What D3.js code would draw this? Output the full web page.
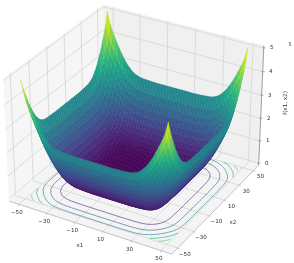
<!DOCTYPE html>
<html><head><meta charset="utf-8">
<script src="https://cdn.jsdelivr.net/npm/d3@7"></script>
<style>html,body{margin:0;padding:0;background:#fff}svg{display:block;filter:blur(.4px)}text{font-family:"DejaVu Sans",sans-serif;fill:#333}</style>
</head><body><svg id="c" width="294" height="263"></svg>
<script>
const x1Grid=[-50,-48,-46,-44,-42,-40,-38,-36,-34,-32,-30,-28,-26,-24,-22,-20,-18,-16,-14,-12,-10,-8,-6,-4,-2,0,2,4,6,8,10,12,14,16,18,20,22,24,26,28,30,32,34,36,38,40,42,44,46,48,50];
const x2Grid=x1Grid.slice();
const x1Profile=[2.55,2.05,1.72,1.45,1.18,.93,.72,.53,.38,.25,.16,.1,.06,.04,.03,.02,.01,.01,0,0,0,0,0,0,0,0,0,0,0,0,0,0,0,.01,.01,.02,.03,.04,.06,.1,.16,.25,.38,.53,.72,.93,1.18,1.45,1.72,2.05,2.55];
const x2Profile=[2.4,2.0,1.7,1.43,1.16,.92,.71,.52,.37,.24,.15,.09,.05,.03,.02,.02,.01,.01,0,0,0,0,0,0,0,0,0,0,0,0,0,0,0,.01,.01,.02,.03,.04,.06,.1,.16,.25,.38,.53,.72,.93,1.18,1.45,1.72,2.05,2.55];
const x1Ticks=[-50,-30,-10,10,30,50];
const x2Ticks=[-50,-30,-10,10,30,50];
const zTicks=[0,1,2,3,4,5];
const contourLevels=[.75,1.5,2.25,3,3.75,4.5];

const svg=d3.select("#c");
const L=57.3, zLo=-.104, zHi=5.104;
const sx=d3.scaleLinear([-L,L],[-.5714,.5714]);
const sy=d3.scaleLinear([-L,L],[-.5714,.5714]);
const sz=d3.scaleLinear([zLo,zHi],[-.4286,.4286]);
const px=d3.scaleLinear([0,1],[136,136+163.3]);
const py=d3.scaleLinear([0,1],[123.5,123.5-163.6]);
const rad=Math.PI/180, el=30*rad, az=-60*rad;
const e=[Math.cos(el)*Math.cos(az),Math.cos(el)*Math.sin(az),Math.sin(el)];
const r=[-Math.sin(az),Math.cos(az),0];
const u=[e[1]*r[2]-e[2]*r[1],e[2]*r[0]-e[0]*r[2],e[0]*r[1]-e[1]*r[0]];
const dot=(a,b)=>a[0]*b[0]+a[1]*b[1]+a[2]*b[2];
function project(x,y,z){
  const p=[sx(x),sy(y),sz(z)], d=dot(e,p), f=10/(10-d);
  return [px(dot(r,p)*f),py(dot(u,p)*f),d];
}
const line=d3.line();
const pathOf=(pts,close)=>line(pts.map(p=>[p[0],p[1]]))+(close?"Z":"");

// panes
const P=(x,y,z)=>project(x,y,z);
const panes=[
 {c:[[-L,-L,zLo],[-L,L,zLo],[-L,L,zHi],[-L,-L,zHi]],f:"#f6f6f6"},
 {c:[[-L,L,zLo],[L,L,zLo],[L,L,zHi],[-L,L,zHi]],f:"#f0f0f0"},
 {c:[[-L,-L,zLo],[L,-L,zLo],[L,L,zLo],[-L,L,zLo]],f:"#f4f4f4"}];
svg.append("g").selectAll("path").data(panes).join("path")
  .attr("d",d=>pathOf(d.c.map(c=>P(...c)),true)).attr("fill",d=>d.f);

// grid lines
const grid=[];
x1Ticks.forEach(t=>{grid.push([[t,-L,zLo],[t,L,zLo],[t,L,zHi]]);});
x2Ticks.forEach(t=>{grid.push([[L,t,zLo],[-L,t,zLo],[-L,t,zHi]]);});
zTicks.forEach(t=>{grid.push([[-L,-L,t],[-L,L,t],[L,L,t]]);});
svg.append("g").selectAll("path").data(grid).join("path")
  .attr("d",d=>pathOf(d.map(c=>P(...c)))).attr("fill","none").attr("stroke","#d4d4d4").attr("stroke-width",.8);

// axis lines
const axes=[[[-L,-L,zLo],[L,-L,zLo]],[[L,-L,zLo],[L,L,zLo]],[[L,L,zLo],[L,L,zHi]]];
svg.append("g").selectAll("path").data(axes).join("path")
  .attr("d",d=>pathOf(d.map(c=>P(...c)))).attr("fill","none")
  .attr("stroke",(d,i)=>i==2?"#888":"#b4b4b4").attr("stroke-width",.8);

// contours on the floor
const zGrid=[];
x2Grid.forEach((_,j)=>x1Grid.forEach((_,i)=>zGrid.push(x1Profile[i]+x2Profile[j])));
const n=x1Grid.length,m=x2Grid.length;
const gx=d3.scaleLinear([.5,n-.5],[x1Grid[0],x1Grid[n-1]]);
const gy=d3.scaleLinear([.5,m-.5],[x2Grid[0],x2Grid[m-1]]);
const color=v=>d3.interpolateViridis(v/5);
const cs=d3.contours().size([n,m]).thresholds(contourLevels)(zGrid);
const cg=svg.append("g").attr("fill","none");
cs.forEach(c=>{
  c.coordinates.forEach(poly=>poly.forEach(ring=>{
    let run=[];
    const flush=()=>{if(run.length>1)cg.append("path").attr("d",pathOf(run.map(q=>P(gx(q[0]),gy(q[1]),zLo))))
      .attr("stroke",color(c.value)).attr("stroke-width",.9).attr("stroke-opacity",.7);run=[];};
    ring.forEach(q=>{
      const inside=q[0]>.6&&q[0]<n-.6&&q[1]>.6&&q[1]<m-.6;
      if(inside)run.push(q);else flush();
    });
    flush();
  }));
});

// surface facets, far to near
const facets=[];
for(let j=0;j<m-1;j++)for(let i=0;i<n-1;i++){
  const corners=[[i,j],[i+1,j],[i+1,j+1],[i,j+1]].map(([a,b])=>P(x1Grid[a],x2Grid[b],x1Profile[a]+x2Profile[b]));
  const v=d3.mean([[i,j],[i+1,j],[i+1,j+1],[i,j+1]],([a,b])=>x1Profile[a]+x2Profile[b]);
  facets.push({corners,v,depth:d3.mean(corners,c=>c[2])});
}
facets.sort((a,b)=>a.depth-b.depth);
svg.append("g").selectAll("path").data(facets).join("path")
  .attr("d",d=>pathOf(d.corners,true)).attr("fill",d=>color(d.v)).attr("stroke",d=>color(d.v)).attr("stroke-width",.45);

// tick labels
const fs=5.6;
const lab=svg.append("g").attr("font-size",fs).attr("text-anchor","middle").attr("dominant-baseline","middle");
const fmt=t=>String(t).replace("-","\u2212");
x1Ticks.forEach(t=>{const q=P(t,-L,zLo);lab.append("text").attr("x",q[0]-2).attr("y",q[1]+8).text(fmt(t));
  svg.append("path").attr("d",pathOf([q,[q[0]-.5,q[1]+2]])).attr("stroke","#999").attr("stroke-width",.5);});
x2Ticks.forEach(t=>{const q=P(L,t,zLo);lab.append("text").attr("x",q[0]+7).attr("y",q[1]+6).text(fmt(t));
  svg.append("path").attr("d",pathOf([q,[q[0]+1.5,q[1]+1]])).attr("stroke","#999").attr("stroke-width",.5);});
zTicks.forEach(t=>{const q=P(L,L,t);lab.append("text").attr("x",q[0]+8).attr("y",q[1]).text(fmt(t));
  svg.append("path").attr("d",pathOf([[q[0]-1.5,q[1]],[q[0]+2,q[1]]])).attr("stroke","#777").attr("stroke-width",.5);});
lab.append("text").attr("x",80).attr("y",245).text("x1");
lab.append("text").attr("x",233).attr("y",222).text("x2");
lab.append("text").attr("transform","translate(285,103) rotate(-90)").text("f(x1, x2)");
lab.append("text").attr("x",290).attr("y",45).attr("font-size",5).text("5");
</script></body></html>
